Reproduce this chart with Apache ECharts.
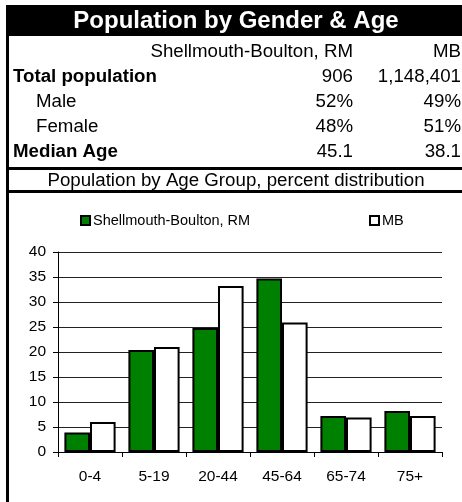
<!DOCTYPE html>
<html>
<head>
<meta charset="utf-8">
<script src="https://cdn.jsdelivr.net/npm/echarts@6/dist/echarts.min.js"></script>
<style>
html,body{margin:0;padding:0;background:#fff;}
#chart{width:462px;height:502px;}
</style>
</head>
<body>
<div id="chart"></div>
<script>
const mainTitle = 'Population by Gender & Age';
const seriesNames = ['Shellmouth-Boulton, RM', 'MB'];
const rowLabels = ['Total population', 'Male', 'Female', 'Median Age'];
const rowBold = [true, false, false, true];
const rmStats = ['906', '52%', '48%', '45.1'];
const mbStats = ['1,148,401', '49%', '51%', '38.1'];
const chartTitle = 'Population by Age Group, percent distribution';
const categories = ['0-4', '5-19', '20-44', '45-64', '65-74', '75+'];
const rmValues = [3.9, 20.4, 24.8, 34.7, 7.2, 8.2];
const mbValues = [6.0, 21.0, 33.2, 25.9, 6.9, 7.2];
const yTicks = [0, 5, 10, 15, 20, 25, 30, 35, 40];

const FONT = "'Liberation Sans', Arial, sans-serif";
const rowY = [77, 102, 127, 152];

const graphics = [
  {type:'rect', shape:{x:6, y:5, width:3, height:497}, style:{fill:'#000'}},
  {type:'rect', shape:{x:6, y:5, width:456, height:31}, style:{fill:'#000'}},
  {type:'rect', shape:{x:6, y:167, width:456, height:3}, style:{fill:'#000'}},
  {type:'rect', shape:{x:6, y:190, width:456, height:3}, style:{fill:'#000'}},
  {type:'text', x:236, y:21, style:{text:mainTitle, fill:'#fff', fontSize:24, fontWeight:'bold', fontFamily:FONT, align:'center', verticalAlign:'middle'}},
  {type:'text', x:353, y:52, style:{text:seriesNames[0], fill:'#000', fontSize:18.7, fontFamily:FONT, align:'right', verticalAlign:'middle'}},
  {type:'text', x:461, y:52, style:{text:seriesNames[1], fill:'#000', fontSize:18.7, fontFamily:FONT, align:'right', verticalAlign:'middle'}},
  {type:'text', x:236, y:181, style:{text:chartTitle, fill:'#000', fontSize:18.7, fontFamily:FONT, align:'center', verticalAlign:'middle'}}
];
rowLabels.forEach(function(lbl, i){
  graphics.push({type:'text', x: rowBold[i] ? 13 : 36, y: rowY[i], style:{text:lbl, fill:'#000', fontSize:18.7, fontWeight: rowBold[i] ? 'bold' : 'normal', fontFamily:FONT, align:'left', verticalAlign:'middle'}});
  graphics.push({type:'text', x:353, y: rowY[i], style:{text:rmStats[i], fill:'#000', fontSize:18.7, fontFamily:FONT, align:'right', verticalAlign:'middle'}});
  graphics.push({type:'text', x:461, y: rowY[i], style:{text:mbStats[i], fill:'#000', fontSize:18.7, fontFamily:FONT, align:'right', verticalAlign:'middle'}});
});

const chart = echarts.init(document.getElementById('chart'), null, {renderer:'canvas'});
chart.setOption({
  animation: false,
  backgroundColor: '#fff',
  graphic: graphics,
  legend: [
    {data:[seriesNames[0]], left:80, top:213, padding:0, itemWidth:9, itemHeight:9, itemGap:0,
     icon:'rect', textStyle:{fontSize:14.5, color:'#000', fontFamily:FONT, padding:[0,0,0,-2]}},
    {data:[seriesNames[1]], left:369, top:213, padding:0, itemWidth:9, itemHeight:9, itemGap:0,
     icon:'rect', textStyle:{fontSize:14.5, color:'#000', fontFamily:FONT, padding:[0,0,0,-2]}}
  ],
  grid: {left:58, right:20, top:252, bottom:50, containLabel:false},
  xAxis: {
    type:'category', data: categories,
    axisLine:{show:true, lineStyle:{color:'#000', width:1}},
    axisTick:{show:true, length:5, lineStyle:{color:'#000'}},
    axisLabel:{color:'#000', fontSize:15.5, fontFamily:FONT, margin:17}
  },
  yAxis: {
    type:'value', min:yTicks[0], max:yTicks[yTicks.length-1], interval:5,
    axisLine:{show:true, lineStyle:{color:'#000', width:1}},
    axisTick:{show:true, length:5, lineStyle:{color:'#000'}},
    axisLabel:{color:'#000', fontSize:15.5, fontFamily:FONT, margin:12},
    splitLine:{show:true, lineStyle:{color:'#222', width:1}}
  },
  series: [
    {name:seriesNames[0], type:'bar', data: rmValues, barGap:'0%', barCategoryGap:'20%',
     itemStyle:{color:'#008000', borderColor:'#000', borderWidth:2}},
    {name:seriesNames[1], type:'bar', data: mbValues, barGap:'0%', barCategoryGap:'20%',
     itemStyle:{color:'#fff', borderColor:'#000', borderWidth:2}}
  ]
});
</script>
</body>
</html>
